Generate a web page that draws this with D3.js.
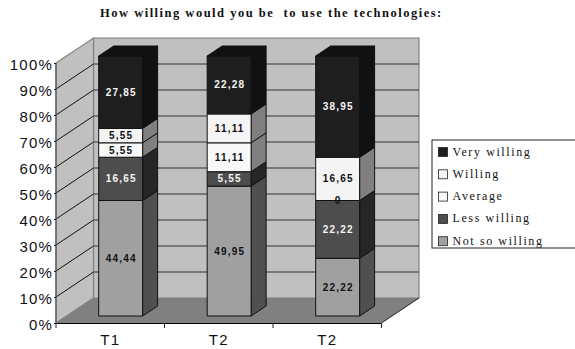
<!DOCTYPE html>
<html>
<head>
<meta charset="utf-8">
<script src="https://cdn.jsdelivr.net/npm/d3@7/dist/d3.min.js"></script>
<style>
html,body{margin:0;padding:0;background:#fff;overflow:hidden}
svg{display:block}
</style>
</head>
<body>
<svg id="chart" width="575" height="349"></svg>
<script>
const categories = ["T1", "T2", "T2"];
const seriesNames = ["Not so willing", "Less willing", "Average", "Willing", "Very willing"];
const notSoWilling = [44.44, 49.95, 22.22];
const lessWilling = [16.65, 5.55, 22.22];
const average = [5.55, 11.11, 0];
const willing = [5.55, 11.11, 16.65];
const veryWilling = [27.85, 22.28, 38.95];
const labelTexts = [
  ["44,44", "49,95", "22,22"],
  ["16,65", "5,55", "22,22"],
  ["5,55", "11,11", "0"],
  ["5,55", "11,11", "16,65"],
  ["27,85", "22,28", "38,95"]
];
const percentTicks = [0, 0.1, 0.2, 0.3, 0.4, 0.5, 0.6, 0.7, 0.8, 0.9, 1];

const faceColours = ["#a0a0a0", "#4d4d4d", "#f8f8f8", "#f4f4f4", "#1e1e1e"];
const sideColours = ["#505050", "#262626", "#808080", "#808080", "#111111"];
const textColours = ["#111", "#f4f4f4", "#111", "#111", "#f4f4f4"];

const svg = d3.select("#chart");

// Projection of the chart box: front plane, and the shift to the back wall
const frontLeft = 56, frontRight = 381.5, frontBase = 323, boxDepthX = 37.5, boxDepthY = 25;
const wallHeight = 260;
const barDepthX = 15, barDepthY = 10;
const barInsetX = 10.4, barInsetY = 7;

const x = d3.scaleBand().domain(d3.range(categories.length))
  .range([frontLeft, frontRight]).paddingInner(0.595).paddingOuter(0.2975);
const y = d3.scaleLinear().domain([0, 1]).range([frontBase, frontBase - wallHeight]);

const rows = categories.map((c, i) => ({
  i, 0: notSoWilling[i], 1: lessWilling[i], 2: average[i], 3: willing[i], 4: veryWilling[i]
}));
const stacked = d3.stack().keys([0, 1, 2, 3, 4]).offset(d3.stackOffsetExpand)(rows);

const poly = pts => pts.map(p => p.join(",")).join(" ");

// Walls and floor
const wallTop = y(1) - boxDepthY, wallBottom = frontBase - boxDepthY;
const backL = frontLeft + boxDepthX, backR = frontRight + boxDepthX;
const walls = svg.append("g");
walls.append("polygon")
  .attr("points", poly([[backL, wallTop], [backR, wallTop], [backR, wallBottom], [backL, wallBottom]]))
  .attr("fill", "#c0c0c0").attr("stroke", "#808080").attr("stroke-width", 1.2);
walls.append("polygon")
  .attr("points", poly([[frontLeft, y(1)], [backL, wallTop], [backL, wallBottom], [frontLeft, frontBase]]))
  .attr("fill", "#c0c0c0").attr("stroke", "#808080").attr("stroke-width", 1.2);
walls.append("polygon")
  .attr("points", poly([[frontLeft, frontBase], [backL, wallBottom], [backR, wallBottom], [frontRight, frontBase]]))
  .attr("fill", "#808080");

// Gridlines run along the left wall, then across the back wall
const grid = svg.append("g");
grid.selectAll("line.side").data(percentTicks.slice(1, -1)).join("line").attr("class", "side")
  .attr("x1", frontLeft).attr("x2", backL)
  .attr("y1", d => y(d)).attr("y2", d => y(d) - boxDepthY)
  .attr("stroke", "#111").attr("stroke-width", 1);
grid.selectAll("line.back").data(percentTicks.slice(1, -1)).join("line").attr("class", "back")
  .attr("x1", backL).attr("x2", backR)
  .attr("y1", d => y(d) - boxDepthY).attr("y2", d => y(d) - boxDepthY)
  .attr("stroke", "#333").attr("stroke-width", 1);
walls.append("line")
  .attr("x1", backR).attr("y1", wallBottom).attr("x2", frontRight).attr("y2", frontBase)
  .attr("stroke", "#222");
svg.append("line")
  .attr("x1", frontLeft).attr("y1", y(1)).attr("x2", frontLeft).attr("y2", frontBase)
  .attr("stroke", "#555").attr("stroke-width", 1.2);

// Stacked bars with front, side and top faces
const barsG = svg.append("g").attr("stroke", "#111").attr("stroke-width", 1).attr("stroke-linejoin", "round");
const shiftedY = v => y(v) - barInsetY;
stacked.forEach((layer, s) => {
  const g = barsG.append("g");
  layer.forEach((d, i) => {
    const x0 = x(i) + barInsetX, x1 = x0 + x.bandwidth();
    const yb = shiftedY(d[0]), yt = shiftedY(d[1]);
    if (yb - yt < 0.01) return;
    g.append("polygon")
      .attr("points", poly([[x1, yb], [x1 + barDepthX, yb - barDepthY], [x1 + barDepthX, yt - barDepthY], [x1, yt]]))
      .attr("fill", sideColours[s]);
    g.append("rect")
      .attr("x", x0).attr("y", yt).attr("width", x.bandwidth()).attr("height", yb - yt)
      .attr("fill", faceColours[s]);
    if (s === stacked.length - 1) {
      g.append("polygon")
        .attr("points", poly([[x0, yt], [x0 + barDepthX, yt - barDepthY], [x1 + barDepthX, yt - barDepthY], [x1, yt]]))
        .attr("fill", "#111");
    }
  });
});

// Value labels centred on each segment's front face
const labelsG = svg.append("g")
  .attr("font-family", "'Liberation Sans', Arial, sans-serif")
  .attr("font-size", 10).attr("font-weight", "bold")
  .attr("letter-spacing", 1.2).attr("text-anchor", "middle");
stacked.forEach((layer, s) => {
  layer.forEach((d, i) => {
    labelsG.append("text")
      .attr("x", x(i) + barInsetX + x.bandwidth() / 2 + 0.5)
      .attr("y", (shiftedY(d[0]) + shiftedY(d[1])) / 2 + 3.5)
      .attr("fill", textColours[s])
      .text(labelTexts[s][i]);
  });
});

// Axes
const tickBand = d3.scaleBand().domain(d3.range(categories.length)).range([frontLeft, frontRight]);
const xAxis = d3.axisBottom(tickBand).tickFormat(i => categories[i]).tickSize(0).tickPadding(11);
const xg = svg.append("g").attr("transform", `translate(0,${frontBase})`).call(xAxis);
xg.select(".domain").attr("stroke", "#000");
xg.selectAll("text")
  .attr("font-family", "'Liberation Sans', Arial, sans-serif")
  .attr("font-size", 15).attr("letter-spacing", 1.2).attr("fill", "#111");
svg.append("g").selectAll("line").data(d3.range(categories.length + 1)).join("line")
  .attr("x1", i => frontLeft + i * tickBand.step()).attr("x2", i => frontLeft + i * tickBand.step())
  .attr("y1", frontBase).attr("y2", frontBase + 5).attr("stroke", "#222");

const yAxis = d3.axisLeft(y).tickValues(percentTicks).tickFormat(d3.format(".0%")).tickSize(2).tickPadding(1);
const yg = svg.append("g").attr("transform", `translate(${frontLeft},1.5)`).call(yAxis);
yg.select(".domain").remove();
yg.selectAll("line").attr("stroke", "#222").attr("transform", "translate(0,-1.5)");
yg.selectAll("text")
  .attr("font-family", "'Liberation Sans', Arial, sans-serif")
  .attr("font-size", 15).attr("letter-spacing", 1.2).attr("fill", "#111");

// Title
svg.append("text")
  .attr("x", 100).attr("y", 17)
  .attr("font-family", "'Liberation Serif', 'Times New Roman', serif")
  .attr("font-size", 12.5).attr("font-weight", "bold").attr("letter-spacing", 1.5)
  .attr("fill", "#111")
  .style("white-space", "pre")
  .text("How willing would you be  to use the technologies:");

// Legend, listed from the top of the stack downwards; the frame runs off the right edge
const legendX = 432, legendY = 140, legendW = 150, legendH = 108, legendStep = 22.3;
const legend = svg.append("g");
legend.append("rect")
  .attr("x", legendX).attr("y", legendY).attr("width", legendW).attr("height", legendH)
  .attr("fill", "#fff").attr("stroke", "#222").attr("stroke-width", 1);
const legendOrder = d3.range(seriesNames.length).reverse();
legendOrder.forEach((s, k) => {
  const cy = legendY + 12 + k * legendStep;
  legend.append("rect")
    .attr("x", legendX + 6.5).attr("y", cy - 4.5).attr("width", 9).attr("height", 9)
    .attr("fill", faceColours[s]).attr("stroke", "#222").attr("stroke-width", 0.8);
  legend.append("text")
    .attr("x", legendX + 20.5).attr("y", cy + 3.5)
    .attr("font-family", "'Liberation Serif', 'Times New Roman', serif")
    .attr("font-size", 12).attr("letter-spacing", 1.6).attr("fill", "#111")
    .text(seriesNames[s]);
});
</script>
</body>
</html>
